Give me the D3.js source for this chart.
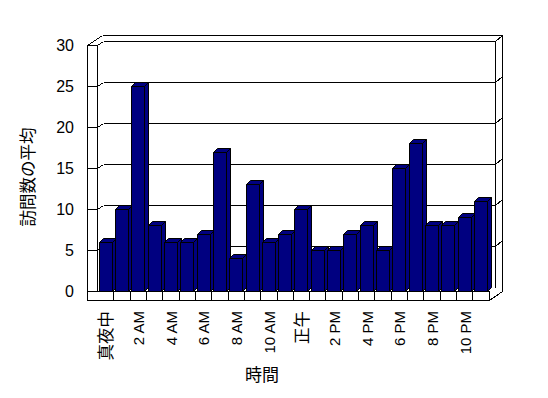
<!DOCTYPE html>
<html>
<head>
<meta charset="utf-8">
<script src="https://cdn.jsdelivr.net/npm/d3@7"></script>
<style>
  body { margin: 0; background: #fff; }
  text { font-family: "Liberation Sans", "Noto Sans CJK JP", sans-serif; fill: #000; }
</style>
</head>
<body>
<script>
var hours = ['真夜中', '1 AM', '2 AM', '3 AM', '4 AM', '5 AM', '6 AM', '7 AM', '8 AM', '9 AM', '10 AM', '11 AM',
             '正午', '1 PM', '2 PM', '3 PM', '4 PM', '5 PM', '6 PM', '7 PM', '8 PM', '9 PM', '10 PM', '11 PM'];
var visits = [6, 10, 25, 8, 6, 6, 7, 17, 4, 13, 6, 7,
              10, 5, 5, 7, 8, 5, 15, 18, 8, 8, 9, 11];
var yTicks = [0, 5, 10, 15, 20, 25, 30];
var xTitle = '時間', yTitle = '訪問数の平均';

var W = 548, H = 398;
var wallIn = {dx: 6, dy: -4},   // front -> back wall face
    barD = {dx: 4, dy: -4},     // bar depth
    rightT = {dx: 8, dy: -6};   // back wall thickness on right

var svg = d3.select('body').append('svg').attr('width', W).attr('height', H);

var x = d3.scaleBand().domain(hours).range([97, 489]).paddingInner(0.18).paddingOuter(0.1);
var y = d3.scaleLinear().domain([0, 30]).range([291, 45]);

var x0 = 97, x1 = 489, y0 = y(0), yTop = y(30);
var floorB = 300, outerL = 87, outerTop = 35, outerR = 502;

function line(g, a, b, c, d) {
    g.append('line').attr('x1', a).attr('y1', b).attr('x2', c).attr('y2', d)
        .attr('stroke', '#000').attr('stroke-width', 1).attr('shape-rendering', 'crispEdges');
}
function poly(g, pts, fill) {
    g.append('polygon').attr('points', pts.map(function(p) { return p.join(','); }).join(' '))
        .attr('fill', fill).attr('stroke', '#000').attr('stroke-width', 1)
        .attr('stroke-linejoin', 'miter');
}

var frame = svg.append('g').attr('transform', 'translate(0.5,0.5)');

// back wall
var bx0 = x0 + wallIn.dx, bx1 = x1 + wallIn.dx;
frame.append('rect').attr('x', bx0).attr('y', yTop + wallIn.dy)
    .attr('width', bx1 - bx0).attr('height', y0 - yTop).attr('fill', '#fff');
line(frame, outerL + 15, outerTop, outerR, outerTop);
line(frame, outerR, outerTop, outerR, y0);
line(frame, bx1, yTop + wallIn.dy, bx1 + rightT.dx - 1, yTop + wallIn.dy + rightT.dy);
line(frame, bx1, yTop + wallIn.dy, bx1, y0 + wallIn.dy);

// gridlines on back wall
yTicks.forEach(function(v) {
    var gy = y(v) + wallIn.dy;
    if (v > 0) {
        line(frame, bx0, gy, bx1, gy);
        line(frame, bx1, gy, outerR, gy + rightT.dy);
    }
});

// left wall
line(frame, outerL, yTop, outerL, floorB);
line(frame, x0, yTop, x0, y0);
line(frame, outerL, yTop, x0, yTop);
line(frame, outerL, yTop, outerL + 15, outerTop);
line(frame, x0, yTop, bx0, yTop + wallIn.dy);
yTicks.forEach(function(v) {
    line(frame, outerL, y(v), x0, y(v));
    if (v > 0 && v < 30) line(frame, x0, y(v), bx0, y(v) + wallIn.dy);
});

// floor
line(frame, outerL, y0, x1, y0);
line(frame, outerL, floorB, x1, floorB);
line(frame, x1, y0, x1, floorB);
line(frame, x1, floorB, outerR, y0);
hours.forEach(function(h, i) {
    if (i === 0) return;
    var sx = Math.round(x0 + i * x.step());
    line(frame, sx, y0, sx, floorB);
});

// bars
var bars = svg.append('g').attr('transform', 'translate(0.5,0.5)');
hours.forEach(function(h, i) {
    var bx = Math.round(x(h)), bw = Math.round(x.bandwidth()), by = Math.round(y(visits[i]));
    var g = bars.append('g');
    poly(g, [[bx + bw, by], [bx + bw + barD.dx, by + barD.dy], [bx + bw + barD.dx, y0 + barD.dy], [bx + bw, y0]], '#000080');
    poly(g, [[bx, by], [bx + barD.dx, by + barD.dy], [bx + bw + barD.dx, by + barD.dy], [bx + bw, by]], '#000080');
    poly(g, [[bx, by], [bx + bw, by], [bx + bw, y0], [bx, y0]], '#000080');
});

// y tick labels
svg.append('g').selectAll('text').data(yTicks).join('text')
    .attr('x', 74).attr('y', function(d) { return y(d); })
    .attr('dy', '0.35em').attr('text-anchor', 'end')
    .style('font-size', '16px')
    .text(function(d) { return d; });

// x labels, every other hour
svg.append('g').selectAll('text').data(hours.filter(function(h, i) { return i % 2 === 0; })).join('text')
    .attr('transform', function(d) { return 'translate(' + (x(d) + x.bandwidth() / 2 + 1) + ',311) rotate(-90)'; })
    .attr('dy', '0.35em').attr('text-anchor', 'end')
    .style('font-size', function(d) { return /[^\x00-\x7f]/.test(d) ? '16.5px' : '15px'; })
    .text(function(d) { return d; });

svg.append('text').attr('x', 262).attr('y', 375).attr('dy', '0.35em')
    .attr('text-anchor', 'middle').style('font-size', '17px').text(xTitle);
svg.append('text').attr('transform', 'translate(28,177) rotate(-90)').attr('dy', '0.35em')
    .attr('text-anchor', 'middle').style('font-size', '16.5px').text(yTitle);
</script>
</body>
</html>
